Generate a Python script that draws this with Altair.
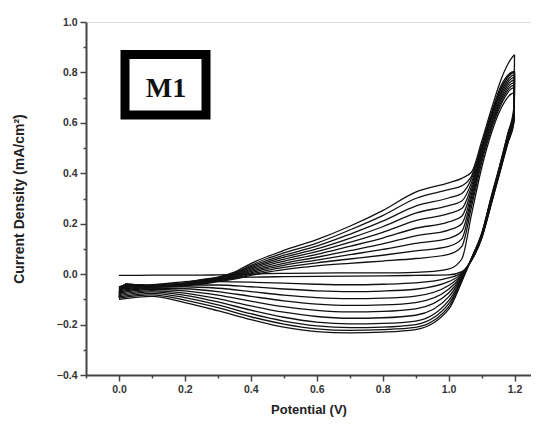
import altair as alt
import pandas as pd

# Potential grid (V) of the forward (anodic) sweep and of the reverse (cathodic) sweep
ANODIC_V = [0.0, 0.02, 0.1, 0.2, 0.25, 0.3, 0.35, 0.4, 0.45, 0.5, 0.6, 0.7, 0.8, 0.9,
            1.0, 1.04, 1.07, 1.1, 1.13, 1.16, 1.19, 1.2]
CATHODIC_V = [1.2, 1.198, 1.18, 1.155, 1.13, 1.1, 1.07, 1.04, 1.0, 0.9, 0.8, 0.7, 0.6,
              0.5, 0.4, 0.3, 0.2, 0.1, 0.0]

# Current density (mA/cm2), one row per cycle
ANODIC_I = [
    [-0.005, -0.005, -0.004, -0.004, -0.004, -0.003, -0.002, 0.000, 0.002, 0.003, 0.004, 0.005, 0.005, 0.007, 0.020, 0.060, 0.240, 0.420, 0.560, 0.660, 0.715, 0.720],
    [-0.050, -0.044, -0.050, -0.045, -0.040, -0.030, -0.020, -0.005, 0.008, 0.018, 0.033, 0.043, 0.052, 0.062, 0.078, 0.110, 0.270, 0.440, 0.575, 0.675, 0.735, 0.740],
    [-0.055, -0.043, -0.049, -0.044, -0.038, -0.028, -0.016, 0.000, 0.015, 0.027, 0.045, 0.060, 0.075, 0.092, 0.110, 0.140, 0.290, 0.455, 0.585, 0.685, 0.745, 0.750],
    [-0.060, -0.043, -0.048, -0.043, -0.036, -0.026, -0.013, 0.005, 0.022, 0.035, 0.056, 0.077, 0.098, 0.122, 0.142, 0.170, 0.305, 0.465, 0.595, 0.695, 0.755, 0.760],
    [-0.065, -0.042, -0.048, -0.042, -0.034, -0.024, -0.010, 0.010, 0.028, 0.043, 0.067, 0.093, 0.120, 0.152, 0.175, 0.200, 0.320, 0.475, 0.605, 0.705, 0.765, 0.770],
    [-0.070, -0.042, -0.047, -0.041, -0.032, -0.022, -0.007, 0.015, 0.035, 0.051, 0.078, 0.110, 0.143, 0.182, 0.207, 0.230, 0.335, 0.485, 0.615, 0.715, 0.775, 0.780],
    [-0.075, -0.041, -0.047, -0.040, -0.030, -0.020, -0.004, 0.020, 0.042, 0.059, 0.089, 0.126, 0.166, 0.212, 0.240, 0.260, 0.350, 0.495, 0.625, 0.725, 0.785, 0.790],
    [-0.080, -0.041, -0.046, -0.039, -0.028, -0.018, -0.001, 0.025, 0.048, 0.067, 0.100, 0.142, 0.188, 0.242, 0.272, 0.290, 0.365, 0.500, 0.630, 0.735, 0.795, 0.800],
    [-0.085, -0.040, -0.046, -0.038, -0.026, -0.016, 0.002, 0.030, 0.055, 0.075, 0.111, 0.158, 0.210, 0.270, 0.302, 0.320, 0.380, 0.505, 0.635, 0.740, 0.795, 0.800],
    [-0.090, -0.040, -0.045, -0.037, -0.024, -0.014, 0.005, 0.035, 0.062, 0.084, 0.123, 0.175, 0.232, 0.300, 0.335, 0.350, 0.390, 0.510, 0.640, 0.750, 0.800, 0.805],
    [-0.095, -0.040, -0.045, -0.035, -0.022, -0.012, 0.008, 0.042, 0.070, 0.094, 0.137, 0.190, 0.252, 0.325, 0.362, 0.380, 0.405, 0.525, 0.655, 0.775, 0.855, 0.870],
]
CATHODIC_I = [
    [0.720, 0.600, 0.520, 0.400, 0.280, 0.140, 0.055, 0.010, -0.003, -0.005, -0.007, -0.008, -0.009, -0.010, -0.012, -0.018, -0.030, -0.042, -0.050],
    [0.740, 0.605, 0.524, 0.403, 0.283, 0.142, 0.056, 0.006, -0.015, -0.035, -0.040, -0.042, -0.040, -0.036, -0.032, -0.030, -0.036, -0.045, -0.055],
    [0.750, 0.610, 0.528, 0.406, 0.286, 0.144, 0.057, 0.002, -0.030, -0.060, -0.067, -0.069, -0.066, -0.059, -0.050, -0.043, -0.043, -0.048, -0.060],
    [0.760, 0.615, 0.532, 0.409, 0.289, 0.146, 0.058, -0.002, -0.045, -0.087, -0.095, -0.097, -0.093, -0.083, -0.069, -0.056, -0.050, -0.052, -0.065],
    [0.770, 0.620, 0.536, 0.412, 0.292, 0.148, 0.059, -0.006, -0.060, -0.113, -0.122, -0.124, -0.119, -0.106, -0.088, -0.069, -0.058, -0.056, -0.070],
    [0.780, 0.625, 0.540, 0.415, 0.295, 0.150, 0.060, -0.010, -0.075, -0.138, -0.148, -0.150, -0.144, -0.129, -0.107, -0.083, -0.066, -0.060, -0.075],
    [0.790, 0.630, 0.544, 0.418, 0.298, 0.152, 0.061, -0.014, -0.090, -0.163, -0.173, -0.175, -0.168, -0.151, -0.126, -0.097, -0.075, -0.065, -0.080],
    [0.800, 0.635, 0.548, 0.421, 0.301, 0.154, 0.062, -0.018, -0.105, -0.186, -0.195, -0.197, -0.190, -0.171, -0.143, -0.110, -0.084, -0.070, -0.085],
    [0.800, 0.640, 0.552, 0.424, 0.304, 0.156, 0.063, -0.022, -0.118, -0.200, -0.210, -0.212, -0.205, -0.186, -0.157, -0.122, -0.093, -0.076, -0.090],
    [0.805, 0.645, 0.556, 0.427, 0.307, 0.158, 0.064, -0.026, -0.130, -0.211, -0.220, -0.223, -0.217, -0.198, -0.169, -0.133, -0.103, -0.082, -0.095],
    [0.870, 0.660, 0.560, 0.430, 0.310, 0.160, 0.065, -0.030, -0.140, -0.220, -0.230, -0.233, -0.228, -0.210, -0.180, -0.145, -0.113, -0.088, -0.100],
]

X_TICKS = [-0.1, 0.0, 0.1, 0.2, 0.3, 0.4, 0.5, 0.6, 0.7, 0.8, 0.9, 1.0, 1.1, 1.2]
Y_TICKS = [-0.4, -0.3, -0.2, -0.1, 0.0, 0.1, 0.2, 0.3, 0.4, 0.5, 0.6, 0.7, 0.8, 0.9, 1.0]
LABEL = "M1"
X_TITLE = "Potential (V)"
Y_TITLE = "Current Density (mA/cm\u00b2)"

rows = []
for k, (a_row, c_row) in enumerate(zip(ANODIC_I, CATHODIC_I)):
    for v, i in zip(ANODIC_V, a_row):
        rows.append({"series": f"{k}-a", "V": v, "I": i})
    for v, i in zip(CATHODIC_V, c_row):
        rows.append({"series": f"{k}-c", "V": v, "I": i})
df = pd.DataFrame(rows)

minor_test = "round(datum.value*10) % 2 != 0"
label_expr = "round(datum.value*10) % 2 == 0 ? format(datum.value, '.1f') : ''"

axis_common = dict(
    grid=False,
    domainColor="#444", domainWidth=2,
    tickColor="#444", tickWidth=1.5,
    tickSize={"condition": {"test": minor_test, "value": 3}, "value": 6},
    labelExpr=label_expr,
    labelFont="Liberation Sans", labelFontSize=10.5, labelFontWeight="bold",
    labelColor="#333", labelPadding=3,
    titleFont="Liberation Sans", titleFontWeight="bold",
    titleColor="#222",
)

x_axis = alt.Axis(values=X_TICKS, title=X_TITLE, titlePadding=9, titleFontSize=13, **axis_common)
y_axis = alt.Axis(values=Y_TICKS, title=Y_TITLE, titlePadding=30, titleFontSize=14, **axis_common)

lines = alt.Chart(df).mark_line(
    color="#111", strokeWidth=1.3, interpolate="monotone", clip=True
).encode(
    x=alt.X("V:Q", scale=alt.Scale(domain=[-0.1, 1.25], nice=False, zero=False), axis=x_axis),
    y=alt.Y("I:Q", scale=alt.Scale(domain=[-0.4, 1.0], nice=False, zero=False), axis=y_axis),
    detail="series:N",
)

label_df = pd.DataFrame({"label": [LABEL]})
box = alt.Chart(label_df).mark_rect(
    fill="white", stroke="black", strokeWidth=9
).encode(
    x=alt.value(39), x2=alt.value(120), y=alt.value(32.5), y2=alt.value(93)
)
text = alt.Chart(label_df).mark_text(
    font="Liberation Serif", fontSize=28, fontWeight="bold", color="#111",
    align="center", baseline="alphabetic"
).encode(
    x=alt.value(80), y=alt.value(75), text="label:N"
)

chart = alt.layer(lines, box, text).properties(
    width=445, height=353,
    autosize=alt.AutoSizeParams(type="none"),
    padding={"left": 78, "top": 14, "right": 0, "bottom": 46},
).configure_view(stroke=None).configure(background="white")

chart.save("out.html", embed_options={"renderer": "svg", "actions": False})
